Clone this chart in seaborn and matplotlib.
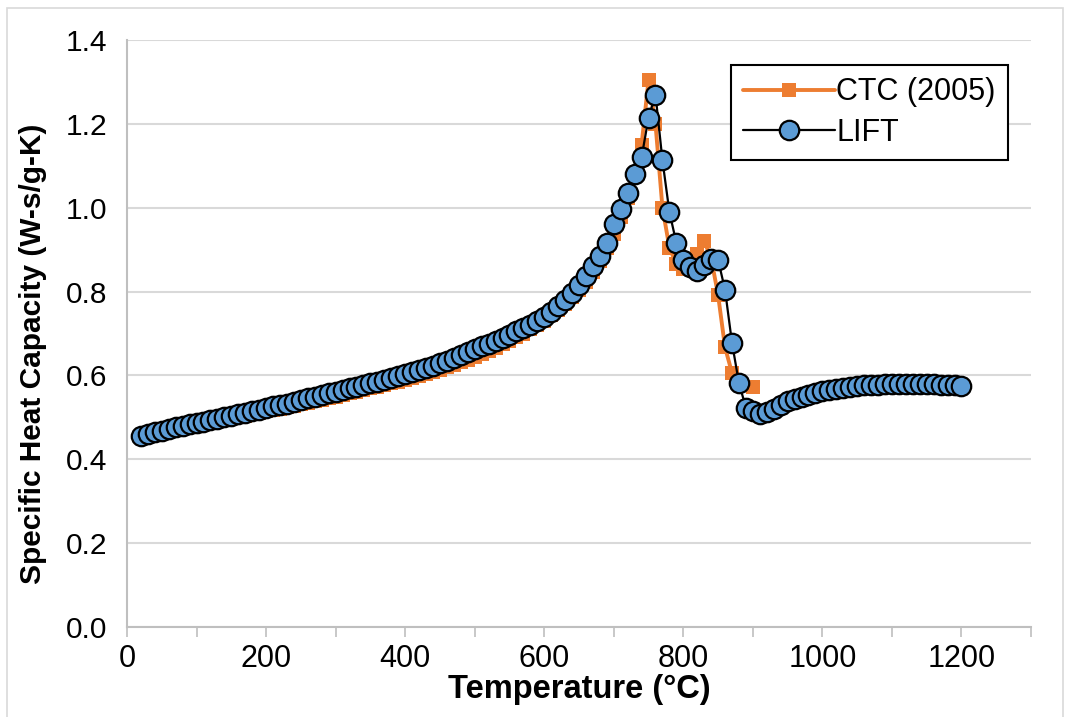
import matplotlib
matplotlib.use("Agg")
import matplotlib.pyplot as plt
import seaborn as sns
import pandas as pd
from matplotlib.ticker import MultipleLocator
from matplotlib.patches import Rectangle

# ---------------- data ----------------
lift_temp = list(range(20, 1201, 10))
lift_cp = [
    0.456, 0.460, 0.464, 0.468, 0.472, 0.476, 0.480, 0.483, 0.487, 0.490,
    0.494, 0.497, 0.501, 0.504, 0.508, 0.511, 0.515, 0.518, 0.522, 0.526,
    0.530, 0.533, 0.537, 0.541, 0.545, 0.549, 0.553, 0.557, 0.561, 0.565,
    0.569, 0.573, 0.577, 0.581, 0.585, 0.589, 0.594, 0.598, 0.603, 0.608,
    0.613, 0.618, 0.623, 0.629, 0.635, 0.641, 0.648, 0.655, 0.662, 0.669,
    0.676, 0.683, 0.690, 0.697, 0.705, 0.713, 0.721, 0.730, 0.740, 0.752,
    0.766, 0.781, 0.797, 0.815, 0.836, 0.862, 0.884, 0.917, 0.960, 0.997,
    1.035, 1.080, 1.120, 1.215, 1.270, 1.113, 0.990, 0.916, 0.876, 0.858,
    0.848, 0.864, 0.878, 0.876, 0.804, 0.678, 0.582, 0.523, 0.515, 0.507,
    0.513, 0.520, 0.530, 0.538, 0.544, 0.549, 0.554, 0.558, 0.562, 0.565,
    0.568, 0.570, 0.572, 0.574, 0.576, 0.577, 0.578, 0.579, 0.580, 0.580,
    0.580, 0.580, 0.580, 0.579, 0.579, 0.578, 0.577, 0.576, 0.575,
]

ctc_temp = list(range(20, 881, 10)) + [900]
ctc_cp = [
    0.455, 0.459, 0.462, 0.466, 0.469, 0.473, 0.476, 0.479, 0.483, 0.486,
    0.489, 0.492, 0.495, 0.498, 0.501, 0.504, 0.507, 0.510, 0.514, 0.517,
    0.521, 0.524, 0.528, 0.531, 0.535, 0.538, 0.542, 0.546, 0.549, 0.553,
    0.557, 0.561, 0.565, 0.569, 0.573, 0.577, 0.581, 0.585, 0.589, 0.594,
    0.598, 0.603, 0.608, 0.613, 0.619, 0.625, 0.631, 0.637, 0.644, 0.651,
    0.658, 0.666, 0.674, 0.682, 0.691, 0.700, 0.710, 0.720, 0.731, 0.743,
    0.756, 0.770, 0.786, 0.804, 0.824, 0.847, 0.873, 0.903, 0.938, 0.978,
    1.024, 1.080, 1.150, 1.305, 1.200, 1.000, 0.905, 0.866, 0.855, 0.860,
    0.890, 0.920, 0.880, 0.792, 0.667, 0.606, 0.580, 0.572,
]

x_label = "Temperature (°C)"
y_label = "Specific Heat Capacity (W-s/g-K)"
series_names = ["CTC (2005)", "LIFT"]

# ---------------- plot ----------------
sns.set_theme(style="white")
plt.rcParams["font.family"] = ["Liberation Sans", "DejaVu Sans"]

fig = plt.figure(figsize=(10.70, 7.17), dpi=100)
ax = fig.add_axes([127 / 1070, 90 / 717, 904 / 1070, 587 / 717])

ctc_df = pd.DataFrame({"T": ctc_temp, "cp": ctc_cp})
lift_df = pd.DataFrame({"T": lift_temp, "cp": lift_cp})

sns.lineplot(data=ctc_df, x="T", y="cp", ax=ax, color="#ED7D31", linewidth=2.8,
             marker="s", markersize=9.5, markeredgewidth=0, markerfacecolor="#ED7D31",
             label=series_names[0], zorder=3, sort=False)
sns.lineplot(data=lift_df, x="T", y="cp", ax=ax, color="black", linewidth=1.6,
             marker="o", markersize=14, markeredgewidth=1.6, markeredgecolor="black",
             markerfacecolor="#5B9BD5", label=series_names[1], zorder=4, sort=False)

ax.set_xlim(0, 1300)
ax.set_ylim(0, 1.4)
ax.xaxis.set_major_locator(MultipleLocator(200))
ax.xaxis.set_minor_locator(MultipleLocator(100))
ax.yaxis.set_major_locator(MultipleLocator(0.2))
ax.set_yticklabels([f"{v:.1f}" for v in ax.get_yticks()])

ax.grid(axis="y", color="#d9d9d9", linewidth=1.5)
ax.grid(axis="x", visible=False)
ax.set_axisbelow(True)
for s in ["top", "right"]:
    ax.spines[s].set_visible(False)
for s in ["left", "bottom"]:
    ax.spines[s].set_color("#bfbfbf")
    ax.spines[s].set_linewidth(1.5)

ax.tick_params(axis="x", which="both", direction="out", length=7, width=1.2,
               color="#bfbfbf", labelsize=22, pad=5, bottom=True, labelcolor="black")
ax.tick_params(axis="y", length=0, labelsize=21.5, pad=14, labelcolor="black")

ax.set_xlabel(x_label, fontsize=23.5, fontweight="bold", labelpad=0, color="black")
ax.set_ylabel(y_label, fontsize=21.5, fontweight="bold", color="black")
ax.yaxis.set_label_coords(-0.088, (627 - 354) / 587)

leg = ax.legend(loc="upper right", bbox_to_anchor=((1008 - 127) / 904, (627 - 65) / 587),
                fontsize=22, frameon=True, fancybox=False, edgecolor="black",
                framealpha=1, borderpad=0.4, handlelength=3.0, handletextpad=0.05,
                labelspacing=0.35, borderaxespad=0)
leg.get_frame().set_linewidth(1.5)
for t in leg.get_texts():
    t.set_color("black")

fig.patches.append(Rectangle((7 / 1070, -0.01), 1056 / 1070, 1 - 8 / 717 + 0.01,
                             transform=fig.transFigure, fill=False,
                             edgecolor="#d9d9d9", linewidth=1.2))

fig.savefig("out.png", dpi=100)
